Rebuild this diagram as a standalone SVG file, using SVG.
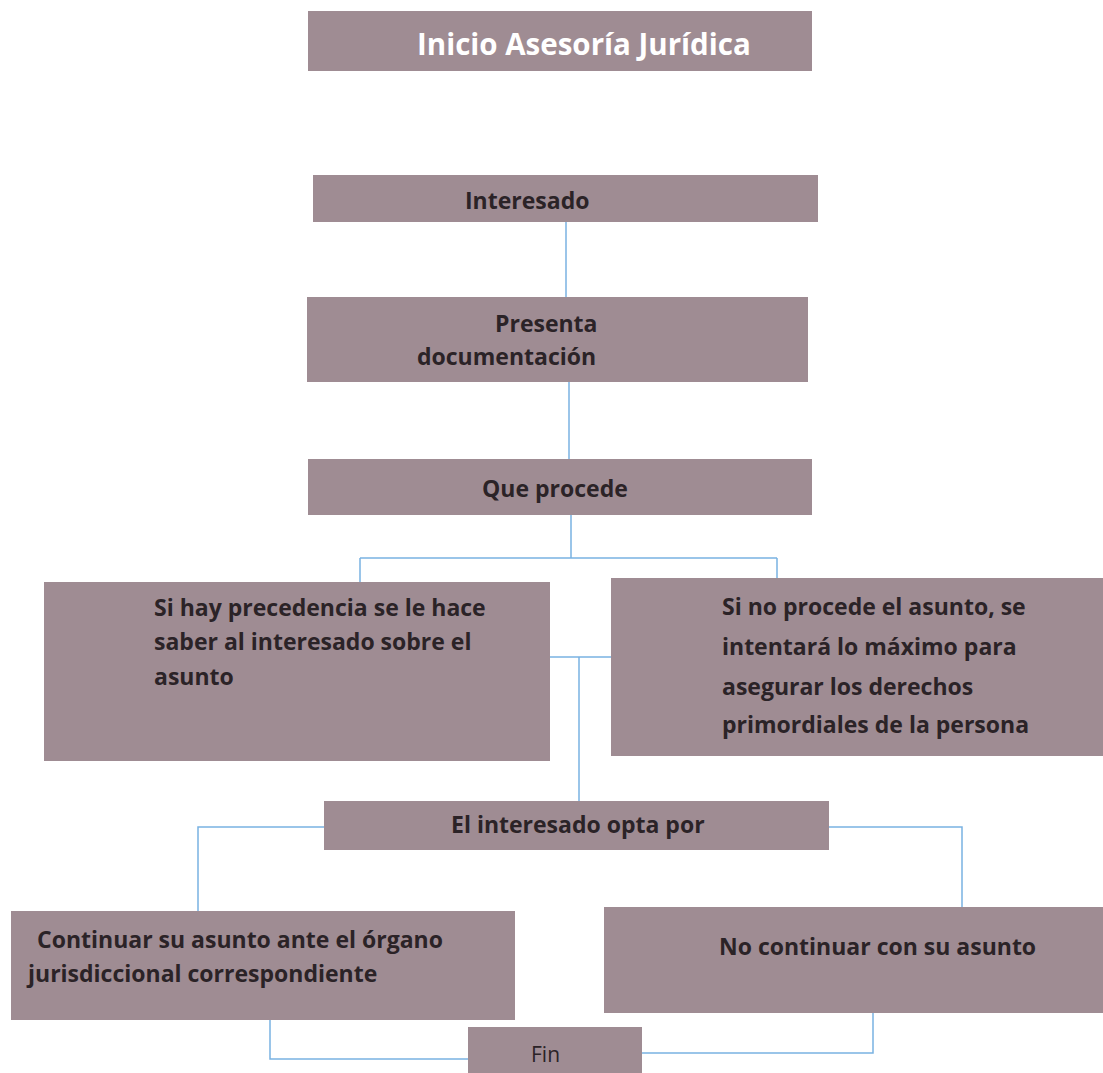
<svg xmlns="http://www.w3.org/2000/svg" width="1103" height="1073" viewBox="0 0 1103 1073">
<style>
.box{fill:#9f8c93}
.t{font-family:"Open Sans",Lato,"Liberation Sans",sans-serif;font-weight:bold;font-size:23px;fill:#2b2327}
.w{fill:#ffffff;font-size:29.5px}
.r{font-weight:normal;font-size:21px}
.c{fill:none;stroke:#7ab2e2;stroke-width:1.5}
</style>
<rect width="1103" height="1073" fill="#ffffff"/>
<g id="connectors">
<path class="c" d="M566 221V297"/>
<path class="c" d="M569 382V459"/>
<path class="c" d="M571 515V558M360 558H777M360 558V582M777 558V578"/>
<path class="c" d="M549 657H611M579 657V801"/>
<path class="c" d="M324 827H198V911M829 827H962V907"/>
<path class="c" d="M270 1020V1059H468M873 1013V1053H642"/>
</g>
<g id="n1"><rect class="box" x="308" y="11" width="504" height="60"/><text class="t w" x="417" y="55">Inicio Asesoría Jurídica</text></g>
<g id="n2"><rect class="box" x="313" y="175" width="505" height="47"/><text class="t" x="465" y="209">Interesado</text></g>
<g id="n3"><rect class="box" x="307" y="297" width="501" height="85"/><text class="t" x="495" y="332">Presenta</text><text class="t" x="417" y="365">documentación</text></g>
<g id="n4"><rect class="box" x="308" y="459" width="504" height="56"/><text class="t" x="482" y="497">Que procede</text></g>
<g id="n5"><rect class="box" x="44" y="582" width="506" height="179"/><text class="t" x="154" y="616">Si hay precedencia se le hace</text><text class="t" x="154" y="650">saber al interesado sobre el</text><text class="t" x="154" y="685">asunto</text></g>
<g id="n6"><rect class="box" x="611" y="578" width="492" height="178"/><text class="t" x="722" y="615">Si no procede el asunto, se</text><text class="t" x="722" y="655">intentará lo máximo para</text><text class="t" x="722" y="695">asegurar los derechos</text><text class="t" x="722" y="733">primordiales de la persona</text></g>
<g id="n7"><rect class="box" x="324" y="801" width="505" height="49"/><text class="t" x="451" y="833">El interesado opta por</text></g>
<g id="n8"><rect class="box" x="11" y="911" width="504" height="109"/><text class="t" x="37" y="948">Continuar su asunto ante el órgano</text><text class="t" x="28" y="982">jurisdiccional correspondiente</text></g>
<g id="n9"><rect class="box" x="604" y="907" width="499" height="106"/><text class="t" x="719" y="955">No continuar con su asunto</text></g>
<g id="n10"><rect class="box" x="468" y="1027" width="174" height="46"/><text class="t r" x="531" y="1062">Fin</text></g>
</svg>
